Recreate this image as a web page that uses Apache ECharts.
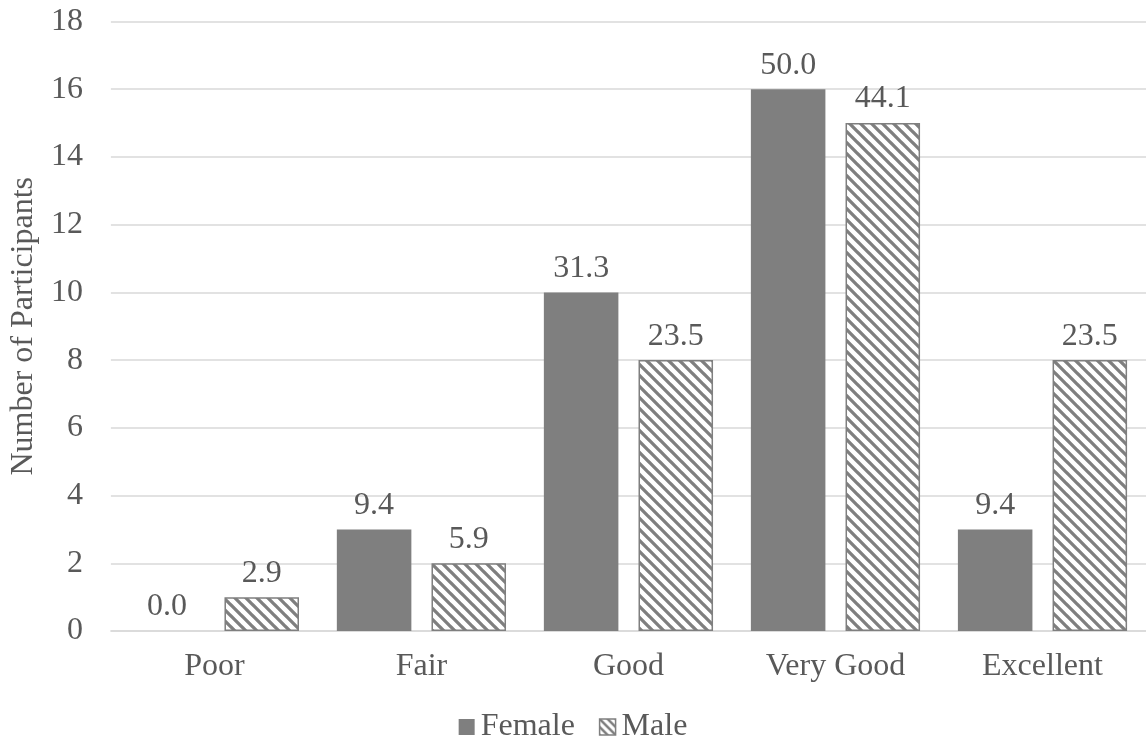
<!DOCTYPE html>
<html>
<head>
<meta charset="utf-8">
<style>
  html, body { margin: 0; padding: 0; background: #ffffff; }
  #chart { width: 1146px; height: 744px; }
</style>
<script src="https://cdn.jsdelivr.net/npm/echarts@6/dist/echarts.min.js"></script>
</head>
<body>
<div id="chart"></div>
<script>
// Self-rated health by gender
const categories = ['Poor', 'Fair', 'Good', 'Very Good', 'Excellent'];
const femaleCounts = [0, 3, 10, 16, 3];
const maleCounts = [1, 2, 8, 15, 8];
const femalePercent = ['0.0', '9.4', '31.3', '50.0', '9.4'];
const malePercent = ['2.9', '5.9', '23.5', '44.1', '23.5'];
const yTicks = { min: 0, max: 18, interval: 2 };

const GREY = '#7f7f7f';
const TEXT = '#595959';
const FONT = '"Liberation Serif", "Times New Roman", serif';
const FS = 32;

// Diagonal "\" hatch tile for the Male bars
function hatchTile(size, lineWidth, color) {
  const c = document.createElement('canvas');
  c.width = size; c.height = size;
  const ctx = c.getContext('2d');
  ctx.fillStyle = '#ffffff';
  ctx.fillRect(0, 0, size, size);
  ctx.strokeStyle = color;
  ctx.lineWidth = lineWidth;
  ctx.lineCap = 'square';
  ctx.beginPath();
  for (let k = -1; k <= 1; k++) {
    ctx.moveTo(k * size - 1, -1);
    ctx.lineTo(k * size + size + 1, size + 1);
  }
  ctx.stroke();
  return c;
}
const hatch = { image: hatchTile(11, 3.3, GREY), repeat: 'repeat' };
const iconHatch = { image: hatchTile(8, 2.5, GREY), repeat: 'repeat' };

const chart = echarts.init(document.getElementById('chart'), null, { renderer: 'canvas' });

const barLabel = texts => ({
  show: true,
  position: 'top',
  distance: 8,
  fontFamily: FONT,
  fontSize: FS,
  color: TEXT,
  formatter: p => texts[p.dataIndex]
});

chart.setOption({
  animation: false,
  backgroundColor: '#ffffff',
  textStyle: { fontFamily: FONT },
  grid: { left: 108, right: -6, top: 21.5, bottom: 113, containLabel: false },
  legend: {
    top: 711,
    left: 'center',
    itemWidth: 16,
    itemHeight: 16,
    itemGap: 24,
    padding: 0,
    textStyle: { fontFamily: FONT, fontSize: FS, color: TEXT, padding: [0, 0, 0, 1] },
    data: [
      { name: 'Female', icon: 'rect', itemStyle: { color: GREY, borderWidth: 0 } },
      { name: 'Male', icon: 'rect', itemStyle: { color: iconHatch, borderColor: GREY, borderWidth: 1.5 } }
    ]
  },
  xAxis: {
    type: 'category',
    data: categories,
    axisLine: { show: true, lineStyle: { color: '#d9d9d9', width: 1.5 } },
    axisTick: { show: false },
    axisLabel: { fontFamily: FONT, fontSize: FS, color: TEXT, margin: 20 }
  },
  yAxis: {
    type: 'value',
    min: yTicks.min,
    max: yTicks.max,
    interval: yTicks.interval,
    name: 'Number of Participants',
    nameLocation: 'middle',
    nameGap: 70,
    nameTextStyle: { fontFamily: FONT, fontSize: FS, color: TEXT },
    axisLine: { show: false },
    axisTick: { show: false },
    axisLabel: { fontFamily: FONT, fontSize: FS, color: TEXT, margin: 28, padding: [7, 0, 0, 0] },
    splitLine: { lineStyle: { color: '#d9d9d9', width: 1.5 } }
  },
  series: [
    {
      name: 'Female',
      type: 'bar',
      data: femaleCounts,
      barWidth: '36%',
      barGap: '27%',
      itemStyle: { color: GREY },
      label: barLabel(femalePercent)
    },
    {
      name: 'Male',
      type: 'bar',
      data: maleCounts,
      barWidth: '36%',
      barGap: '27%',
      itemStyle: { color: hatch, borderColor: GREY, borderWidth: 1.5 },
      label: barLabel(malePercent)
    }
  ]
});
</script>
</body>
</html>
